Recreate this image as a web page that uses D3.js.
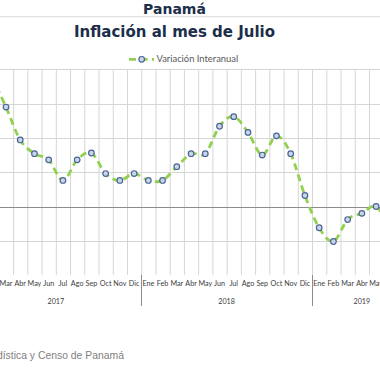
<!DOCTYPE html>
<html><head><meta charset="utf-8">
<script src="https://cdn.jsdelivr.net/npm/d3@7/dist/d3.min.js"></script>
<style>html,body{margin:0;padding:0;background:#fff;overflow:hidden}</style>
</head><body>
<svg id="c" width="380" height="380"></svg>
<script>
const monthNames = ["Ene","Feb","Mar","Abr","May","Jun","Jul","Ago","Sep","Oct","Nov","Dic"];
const years = ["2017","2018","2019"];
const monthsPerYear = [12, 12, 7];
// Variación interanual (%), Ene 2017 .. Jul 2019 (null = fuera del recorte)
const values = [null, 1.9, 1.45, 0.97, 0.77, 0.68, 0.38, 0.68, 0.78, 0.48, 0.38, 0.48,
                0.38, 0.38, 0.58, 0.77, 0.77, 1.17, 1.31, 1.08, 0.75, 1.03, 0.77, 0.16,
                -0.31, -0.51, -0.19, -0.10, 0.00, -0.32, null];
const yTicks = [-1, -0.5, 0, 0.5, 1, 1.5, 2];

const cats = [];
years.forEach((y, yi) => { for (let m = 0; m < monthsPerYear[yi]; m++) cats.push({key: y + "-" + m, year: y, label: monthNames[m]}); });
const data = cats.map((c, i) => ({...c, v: values[i]}));

const svg = d3.select("#c");
const x = d3.scaleBand().domain(cats.map(c => c.key)).range([-29.6, 411.7]).padding(0);
const y = d3.scaleLinear().domain([-1, 2]).range([275.1, 69.3]);
const cx = k => x(k) + x.bandwidth() / 2;

// titles
svg.append("text").attr("x", 174.5).attr("y", 13.5).attr("text-anchor", "middle")
  .attr("font-family", "DejaVu Sans").attr("font-weight", "bold").attr("font-size", 14)
  .attr("fill", "#1c2e4a").text("Panamá");
svg.append("line").attr("x1", 0).attr("x2", 380).attr("y1", 16.7).attr("y2", 16.7)
  .attr("stroke", "#d9d9d9").attr("stroke-width", 1);
svg.append("text").attr("x", 174.5).attr("y", 36.8).attr("text-anchor", "middle")
  .attr("font-family", "DejaVu Sans").attr("font-weight", "bold").attr("font-size", 15)
  .attr("fill", "#1c2e4a").text("Inflación al mes de Julio");

// legend
const lg = svg.append("g");
lg.append("line").attr("x1", 129).attr("x2", 154).attr("y1", 59.3).attr("y2", 59.3)
  .attr("stroke", "#92d050").attr("stroke-width", 2.8).attr("stroke-dasharray", "7,4.5");
lg.append("circle").attr("cx", 141.7).attr("cy", 59.3).attr("r", 2.8)
  .attr("fill", "#c9d6ea").attr("stroke", "#4a6494").attr("stroke-width", 1.2);
lg.append("text").attr("x", 156.5).attr("y", 62.3).attr("font-family", "Lato").attr("font-size", 9.4)
  .attr("fill", "#595959").text("Variación Interanual");

// grid
const [x0, x1] = x.range();
const gv = svg.append("g");
cats.forEach(c => {
  gv.append("line").attr("x1", x(c.key) + 0.5).attr("x2", x(c.key) + 0.5)
    .attr("y1", y(2)).attr("y2", y(-1)).attr("stroke", "#d6d6d6").attr("stroke-width", 1);
});
yTicks.filter(t => t !== 0 && t !== -1).forEach(t => {
  gv.append("line").attr("x1", x0).attr("x2", x1).attr("y1", Math.round(y(t)) + 0.5).attr("y2", Math.round(y(t)) + 0.5)
    .attr("stroke", "#d6d6d6").attr("stroke-width", 1);
});
svg.append("line").attr("x1", x0).attr("x2", x1).attr("y1", Math.round(y(0)) + 0.5).attr("y2", Math.round(y(0)) + 0.5)
  .attr("stroke", "#8c8c8c").attr("stroke-width", 1);

// axis labels
svg.append("g").selectAll("text").data(cats).join("text")
  .attr("x", d => cx(d.key)).attr("y", 286).attr("text-anchor", "middle")
  .attr("font-family", "Lato").attr("font-size", 7.2).attr("fill", "#404040").text(d => d.label);
years.forEach(yr => {
  const ks = cats.filter(c => c.year === yr);
  const a = x(ks[0].key), b = x(ks[ks.length - 1].key) + x.bandwidth();
  svg.append("text").attr("x", (a + b) / 2).attr("y", 304).attr("text-anchor", "middle")
    .attr("font-family", "Lato").attr("font-size", 7.2).attr("fill", "#404040").text(yr);
  [a, b].forEach(p => svg.append("line").attr("x1", Math.round(p) + 0.5).attr("x2", Math.round(p) + 0.5)
    .attr("y1", y(-1)).attr("y2", 306).attr("stroke", "#8c8c8c").attr("stroke-width", 1));
});

// series
const line = d3.line().defined(d => d.v !== null).x(d => cx(d.key)).y(d => y(d.v)).curve(d3.curveCardinal.tension(0));
svg.append("path").datum(data).attr("d", line).attr("fill", "none")
  .attr("stroke", "#92d050").attr("stroke-width", 2.8).attr("stroke-dasharray", "7,4.5");
svg.append("g").selectAll("circle").data(data.filter(d => d.v !== null)).join("circle")
  .attr("cx", d => cx(d.key)).attr("cy", d => y(d.v)).attr("r", 2.8)
  .attr("fill", "#c9d6ea").attr("stroke", "#4a6494").attr("stroke-width", 1.2);

// source
svg.append("text").attr("x", 124).attr("y", 359).attr("text-anchor", "end")
  .attr("font-family", "Liberation Sans").attr("font-size", 10.4).attr("fill", "#7f7f7f")
  .text("Fuente: Instituto Nacional de Estadística y Censo de Panamá");
</script>
</body></html>
